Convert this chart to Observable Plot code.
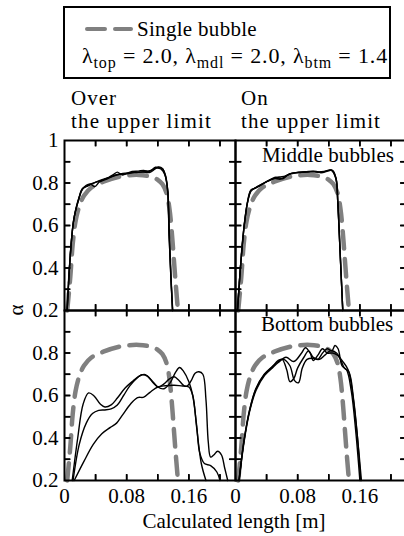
<!DOCTYPE html>
<html><head><meta charset="utf-8">
<script src="https://cdn.jsdelivr.net/npm/d3@7"></script>
<script src="https://cdn.jsdelivr.net/npm/@observablehq/plot@0.6"></script>
<style>
body{margin:0;background:#fff;}
#root{position:relative;width:404px;height:536px;overflow:hidden;}
#root > svg{position:absolute;left:0;top:0;}
.t{position:absolute;white-space:nowrap;font-family:'Liberation Serif','Times New Roman',serif;color:#000;}
.pill{position:absolute;background:#808080;height:4.5px;border-radius:2.25px;}
#dbg{position:absolute;left:0;bottom:0;font:8px monospace;color:red;white-space:pre;}
</style></head><body><div id="root"></div>
<script>
// ---- tick values ----
const xTicks = [0.04, 0.08, 0.12, 0.16, 0.20];
const xTickLabels = [0, 0.08, 0.16];
const yTicks = [0.3, 0.4, 0.5, 0.6, 0.7, 0.8, 0.9];
const yLabelsTop = [0.2, 0.4, 0.6, 0.8, 1];
const yLabelsBottom = [0.2, 0.4, 0.6, 0.8];
const columns = ["over", "on"];
const rows = ["mid", "btm"];

// ---- single bubble (gray dashed) [x (m), alpha] ----
const singleBubble = [[0.0035,0.2],[0.0075,0.36],[0.0105,0.51],[0.0142,0.62],[0.019,0.69],[0.025,0.74],[0.035,0.78],[0.05,0.806],[0.074,0.832],[0.096,0.838],[0.113,0.828],[0.12,0.815],[0.126,0.795],[0.1315,0.75],[0.135,0.68],[0.138,0.57],[0.1405,0.45],[0.143,0.33],[0.1455,0.22],[0.146,0.2]];

// ---- Over the upper limit, middle bubbles ----
const overMid1 = [[0.0034,0.2],[0.0077,0.47],[0.012,0.63],[0.0185,0.726],[0.0228,0.773],[0.031,0.788],[0.044,0.81],[0.057,0.827],[0.063,0.84],[0.068,0.851],[0.074,0.838],[0.08,0.845],[0.087,0.854],[0.095,0.856],[0.102,0.859],[0.109,0.854],[0.117,0.874],[0.122,0.872],[0.126,0.867],[0.13,0.835],[0.1325,0.773],[0.1346,0.553],[0.1368,0.365],[0.139,0.2]];
const overMid2 = [[0.0034,0.2],[0.0077,0.47],[0.012,0.63],[0.0185,0.726],[0.0228,0.77],[0.033,0.795],[0.039,0.783],[0.045,0.805],[0.055,0.82],[0.065,0.835],[0.075,0.845],[0.085,0.848],[0.095,0.85],[0.105,0.855],[0.112,0.86],[0.118,0.87],[0.124,0.866],[0.129,0.84],[0.1325,0.77],[0.1346,0.55],[0.1368,0.36],[0.139,0.2]];
const overMid3 = [[0.0034,0.2],[0.008,0.49],[0.0125,0.64],[0.019,0.735],[0.024,0.775],[0.032,0.792],[0.042,0.805],[0.05,0.815],[0.06,0.83],[0.068,0.84],[0.078,0.842],[0.09,0.85],[0.1,0.852],[0.11,0.85],[0.116,0.865],[0.121,0.875],[0.126,0.868],[0.13,0.83],[0.133,0.76],[0.135,0.55],[0.137,0.36],[0.1392,0.2]];

// ---- On the upper limit, middle bubbles ----
const onMid1 = [[0.0026,0.2],[0.0069,0.427],[0.0112,0.6],[0.0155,0.71],[0.0198,0.765],[0.024,0.773],[0.0305,0.788],[0.039,0.804],[0.052,0.827],[0.061,0.82],[0.0693,0.843],[0.082,0.851],[0.093,0.853],[0.104,0.854],[0.11,0.848],[0.121,0.859],[0.125,0.859],[0.1295,0.82],[0.1316,0.71],[0.1346,0.474],[0.138,0.2]];
const onMid2 = [[0.0026,0.2],[0.007,0.43],[0.0113,0.6],[0.0156,0.71],[0.02,0.762],[0.026,0.778],[0.033,0.792],[0.042,0.81],[0.05,0.822],[0.058,0.818],[0.067,0.838],[0.078,0.848],[0.09,0.852],[0.1,0.856],[0.108,0.85],[0.117,0.856],[0.124,0.86],[0.129,0.825],[0.1316,0.71],[0.1346,0.474],[0.138,0.2]];
const onMid3 = [[0.0026,0.2],[0.0068,0.425],[0.0111,0.6],[0.0154,0.71],[0.0197,0.766],[0.025,0.776],[0.031,0.785],[0.04,0.806],[0.048,0.818],[0.056,0.828],[0.064,0.832],[0.072,0.845],[0.085,0.85],[0.097,0.853],[0.106,0.852],[0.114,0.854],[0.123,0.861],[0.1292,0.82],[0.1316,0.71],[0.1346,0.474],[0.138,0.2]];

// ---- Over the upper limit, bottom bubbles ----
const overBtm1 = [[0.0099,0.2],[0.017,0.4],[0.024,0.56],[0.031,0.612],[0.038,0.598],[0.046,0.56],[0.052,0.546],[0.06,0.556],[0.068,0.588],[0.078,0.635],[0.088,0.668],[0.097,0.693],[0.104,0.698],[0.112,0.672],[0.12,0.64],[0.128,0.632],[0.136,0.66],[0.143,0.71],[0.148,0.732],[0.153,0.715],[0.16,0.665],[0.165,0.6],[0.17,0.46],[0.174,0.33],[0.18,0.28],[0.188,0.27],[0.196,0.24],[0.2,0.2]];
const overBtm2 = [[0.011,0.2],[0.019,0.37],[0.028,0.47],[0.036,0.515],[0.044,0.53],[0.052,0.532],[0.06,0.537],[0.068,0.555],[0.076,0.6],[0.084,0.645],[0.092,0.678],[0.1,0.698],[0.107,0.69],[0.114,0.66],[0.121,0.64],[0.128,0.655],[0.135,0.678],[0.141,0.688],[0.147,0.672],[0.154,0.645],[0.16,0.64],[0.165,0.6],[0.17,0.45],[0.176,0.28],[0.182,0.2]];
const overBtm3 = [[0.0125,0.2],[0.025,0.29],[0.037,0.37],[0.048,0.42],[0.059,0.45],[0.067,0.47],[0.075,0.51],[0.085,0.56],[0.094,0.59],[0.102,0.592],[0.11,0.615],[0.12,0.64],[0.13,0.646],[0.141,0.648],[0.152,0.645],[0.158,0.645],[0.163,0.67],[0.168,0.705],[0.173,0.712],[0.178,0.7],[0.182,0.58],[0.185,0.38],[0.188,0.31],[0.192,0.32],[0.197,0.338],[0.202,0.32],[0.206,0.26],[0.21,0.2]];

// ---- On the upper limit, bottom bubbles ----
const onBtm1 = [[0.0045,0.2],[0.011,0.39],[0.018,0.53],[0.026,0.63],[0.037,0.7],[0.047,0.735],[0.055,0.76],[0.06,0.77],[0.066,0.72],[0.07,0.665],[0.075,0.68],[0.08,0.73],[0.088,0.78],[0.094,0.81],[0.1,0.78],[0.108,0.77],[0.115,0.79],[0.122,0.81],[0.13,0.8],[0.135,0.77],[0.14,0.73],[0.146,0.71],[0.152,0.58],[0.157,0.4],[0.161,0.2]];
const onBtm2 = [[0.0045,0.2],[0.011,0.388],[0.018,0.528],[0.026,0.628],[0.037,0.698],[0.047,0.733],[0.055,0.765],[0.062,0.77],[0.07,0.74],[0.076,0.67],[0.081,0.66],[0.086,0.73],[0.092,0.77],[0.1,0.775],[0.106,0.77],[0.112,0.8],[0.118,0.82],[0.124,0.81],[0.128,0.835],[0.132,0.82],[0.137,0.74],[0.143,0.72],[0.149,0.62],[0.155,0.42],[0.16,0.2]];
const onBtm3 = [[0.0047,0.2],[0.0112,0.385],[0.0182,0.525],[0.0265,0.625],[0.0375,0.695],[0.0475,0.73],[0.055,0.755],[0.065,0.78],[0.075,0.76],[0.085,0.8],[0.09,0.825],[0.096,0.8],[0.1,0.765],[0.106,0.79],[0.112,0.82],[0.118,0.8],[0.125,0.8],[0.131,0.79],[0.138,0.76],[0.145,0.72],[0.151,0.6],[0.157,0.4],[0.162,0.2]];

// ---- one faceted Plot: 2 columns x 2 rows of panels ----
const FW = 171, FH = 170, TK = 6;
const X0 = 0, X1 = 0.22, Y0 = 0.2, Y1 = 1;
const tkx = (X1 - X0) * TK / FW, tky = (Y1 - Y0) * TK / FH;   // tick length in data units
const FONT = "'Liberation Serif', 'Times New Roman', serif";
const root = document.getElementById("root");
const panels = [
  {fx: "over", fy: "mid", series: [overMid1, overMid2, overMid3]},
  {fx: "on",   fy: "mid", series: [onMid1, onMid2, onMid3]},
  {fx: "over", fy: "btm", series: [overBtm1, overBtm2, overBtm3]},
  {fx: "on",   fy: "btm", series: [onBtm1, onBtm2, onBtm3]}
];
const ts = {stroke: "#000", strokeWidth: 1.6};
const marks = [];
for (const p of panels) {
  const fac = {fx: () => p.fx, fy: () => p.fy};
  marks.push(Plot.line(singleBubble, {x: d => d[0], y: d => d[1], ...fac, curve: "catmull-rom",
    stroke: "#808080", strokeWidth: 4.5, strokeDasharray: "17.5,10.5", strokeLinecap: "round"}));
  for (const s of p.series) marks.push(Plot.line(s, {x: d => d[0], y: d => d[1], ...fac, curve: "catmull-rom", stroke: "#000", strokeWidth: 1.4}));
  // inward ticks on the four sides of this panel (paths)
  marks.push(
    Plot.link(xTicks, {x1: d => d, x2: d => d, y1: () => Y0, y2: () => Y0 + tky, ...fac, ...ts}),
    Plot.link(xTicks, {x1: d => d, x2: d => d, y1: () => Y1, y2: () => Y1 - tky, ...fac, ...ts}),
    Plot.link(yTicks, {y1: d => d, y2: d => d, x1: () => X0, x2: () => X0 + tkx, ...fac, ...ts}),
    Plot.link(yTicks, {y1: d => d, y2: d => d, x1: () => X1, x2: () => X1 - tkx, ...fac, ...ts})
  );
}
marks.push(
  Plot.frame({stroke: "#000", strokeWidth: 2}),
  Plot.tickX(xTicks, {x: d => d, insetTop: FH - TK, ...ts}),
  Plot.tickX(xTicks, {x: d => d, insetBottom: FH - TK, ...ts}),
  Plot.tickY(yTicks, {y: d => d, insetRight: FW - TK, ...ts}),
  Plot.tickY(yTicks, {y: d => d, insetLeft: FW - TK, ...ts}),
  Plot.text(yLabelsTop, {fx: () => "over", fy: () => "mid", y: d => d, text: d => String(d), frameAnchor: "left", textAnchor: "end", dx: -6, fontSize: 21}),
  Plot.text(yLabelsBottom, {fx: () => "over", fy: () => "btm", y: d => d, text: d => String(d), frameAnchor: "left", textAnchor: "end", dx: -6, fontSize: 21})
);
for (const c of columns) {
  marks.push(Plot.text(xTickLabels, {fx: () => c, fy: () => "btm", x: d => d, text: d => String(d), frameAnchor: "bottom", lineAnchor: "top", dy: 8, fontSize: 21}));
}
const chart = Plot.plot({
  width: 64 + 2 * FW, height: 536,
  marginLeft: 64, marginRight: 0, marginTop: 140, marginBottom: 536 - 140 - 2 * FH,
  fx: {domain: columns, padding: 0, axis: null, label: null},
  fy: {domain: rows, padding: 0, axis: null, label: null},
  x: {domain: [X0, X1], axis: null},
  y: {domain: [Y0, Y1], axis: null},
  style: {background: "transparent", overflow: "visible", fontFamily: FONT, fontSize: "21px", color: "#000", maxWidth: "none"},
  marks
});
root.appendChild(chart);

// ---- text and legend (HTML) ----
function htext(x, base, html, size = 21, target = null, anchor = "start") {
  const d = document.createElement("div");
  d.className = "t";
  d.style.fontSize = size + "px";
  d.style.lineHeight = size + "px";
  d.innerHTML = html;
  root.appendChild(d);
  if (target) {
    const w0 = d.getBoundingClientRect().width;
    d.style.letterSpacing = ((target - w0) / d.textContent.length) + "px";
  }
  const w = d.getBoundingClientRect().width;
  d.style.left = (anchor === "middle" ? x - w / 2 : x) + "px";
  d.style.top = (base - size * 0.8375) + "px";
  return d;
}
const box = document.createElement("div");
Object.assign(box.style, {position: "absolute", left: "63px", top: "6px", width: "328px", height: "73px", border: "2px solid #000", boxSizing: "border-box", background: "#fff"});
root.appendChild(box);
for (const [l, w] of [[85, 22], [113, 20]]) {
  const p = document.createElement("div");
  p.className = "pill";
  p.style.left = l + "px"; p.style.top = "26.75px"; p.style.width = w + "px";
  root.appendChild(p);
}
htext(137, 37, "Single bubble", 21, 120);
const sub = s => `<span style="font-size:16px;position:relative;top:5px">${s}</span>`;
htext(82, 63, `λ${sub("top")} = 2.0, λ${sub("mdl")} = 2.0, λ${sub("btm")} = 1.4`, 22, 306);
htext(71, 106, "Over", 21, 46);
htext(71, 129, "the upper limit", 21, 141);
htext(241, 106, "On", 21, 28);
htext(241, 129, "the upper limit", 21, 140);
htext(262, 163, "Middle bubbles", 21, 132);
htext(261, 332, "Bottom bubbles", 21, 132);
htext(234, 529, "Calculated length [m]", 21, null, "middle");
const a = document.createElement("div");
a.className = "t";
a.textContent = "α";
Object.assign(a.style, {fontSize: "21px", lineHeight: "21px", left: "16px", top: "310px", transform: "translate(-50%,-50%) rotate(-90deg)"});
root.appendChild(a);

// ---- self-check: report only if a tick is not the top element where it should be ----
const probes = [[67, 182.5], [95, 143], [231, 204]];
const issues = [];
for (const [px, py] of probes) {
  const e = document.elementFromPoint(px, py);
  const g = e && e.closest ? e.closest("g[aria-label]") : null;
  const lab = g ? g.getAttribute("aria-label") : "";
  if (!(lab === "tick" || lab === "link")) issues.push(`${px},${py}: ${e ? e.tagName : "none"} ${lab}`);
}
if (issues.length) {
  const n = chart.querySelectorAll('g[aria-label="tick"] line').length + "/" + chart.querySelectorAll('g[aria-label="link"] path').length;
  const d = document.createElement("div");
  d.id = "dbg";
  d.textContent = "ticks " + n + " | " + issues.join(" | ");
  root.appendChild(d);
}
</script></body></html>
